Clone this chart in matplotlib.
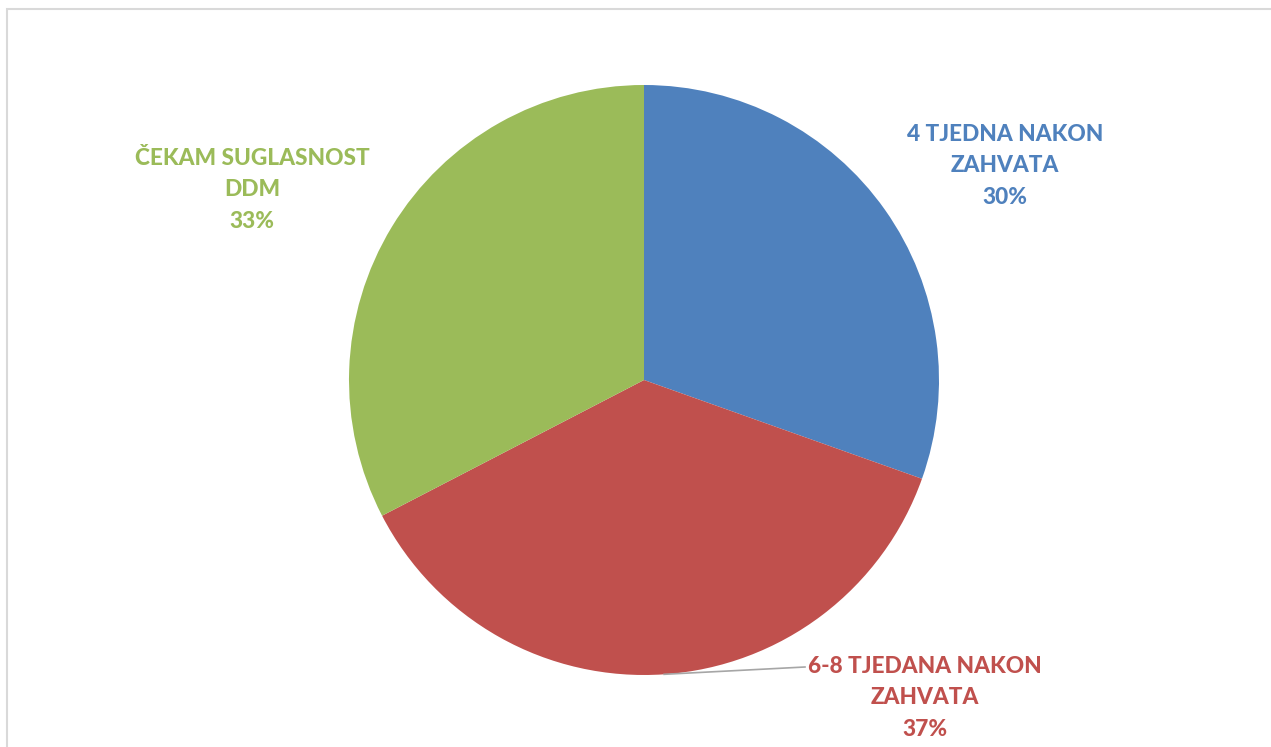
import matplotlib.pyplot as plt
import numpy as np
from matplotlib.patches import Rectangle

W, H = 1271, 747

kategorije = ["4 TJEDNA NAKON\nZAHVATA", "6-8 TJEDANA NAKON\nZAHVATA", "ČEKAM SUGLASNOST\nDDM"]
broj = [14, 17, 15]  # procjena iz kutova isjecaka (30% / 37% / 33%)
boje = ["#4F81BD", "#C0504D", "#9BBB59"]

centar = (644, H - 380)
radijus = 295
# polozaj natpisa (sredina teksta), u pikselima
natpisi_xy = [(1005, H - 166), (925, H - 698), (252, H - 190)]

fig = plt.figure(figsize=(W / 100, H / 100), dpi=100)
ax = fig.add_axes([0, 0, 1, 1])

wedges, _ = ax.pie(broj, colors=boje, startangle=90, counterclock=False,
                   center=centar, radius=radijus, frame=True,
                   wedgeprops=dict(linewidth=0))

ax.set_xlim(0, W)
ax.set_ylim(0, H)
ax.set_aspect("equal")
ax.axis("off")

ukupno = sum(broj)
for lab, n, c, xy in zip(kategorije, broj, boje, natpisi_xy):
    p = round(100 * n / ukupno)
    ax.text(xy[0], xy[1], f"{lab}\n{p}%", color=c, ha="center", va="center",
            fontsize=16.3, fontweight=900, family=["Lato", "DejaVu Sans"],
            linespacing=1.64)

# linija za crveni natpis
w = wedges[1]
kut = np.deg2rad((w.theta1 + w.theta2) / 2)
x0 = centar[0] + radijus * np.cos(kut)
y0 = centar[1] + radijus * np.sin(kut)
ax.plot([x0, 805], [y0, H - 667], color="#A6A6A6", lw=1.2)

# okvir
fig.patches.append(Rectangle((7 / W, -0.1), 1.2, (H - 8.5) / H + 0.1,
                             transform=fig.transFigure, fill=False,
                             edgecolor="#D9D9D9", lw=1.5))

fig.savefig("out.png", dpi=100)
